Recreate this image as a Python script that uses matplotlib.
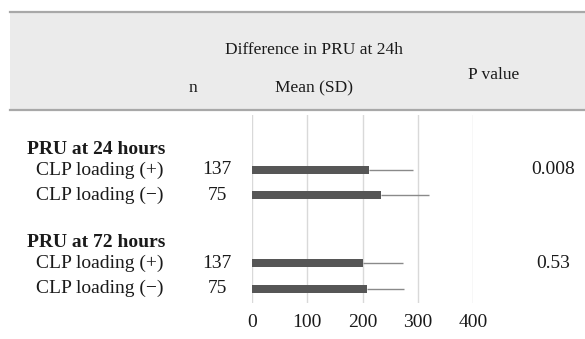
import matplotlib
matplotlib.use("Agg")
import matplotlib.pyplot as plt
from matplotlib.patches import Rectangle
from matplotlib.transforms import blended_transform_factory

# ---- data ----
groups = ["PRU at 24 hours", "PRU at 72 hours"]
row_labels = ["CLP loading (+)", "CLP loading (\u2212)", "CLP loading (+)", "CLP loading (\u2212)"]
n_values = ["137", "75", "137", "75"]
means = [212, 234, 200, 209]
sds = [80, 86, 73, 66]
p_values = ["0.008", "0.53"]
xticks = [0, 100, 200, 300, 400]

# ---- layout (pixels) ----
W, H = 585, 339
fig = plt.figure(figsize=(W / 100, H / 100), dpi=100)
plt.rcParams['font.family'] = ['Liberation Serif', 'DejaVu Serif']
txt = '#1a1a1a'
FSH = 12.5
FS = 14

def fx(px):
    return px / W

def fy(py):
    return 1 - py / H

# header band
band = Rectangle((fx(10), fy(110)), fx(585) - fx(10), fy(12) - fy(110),
                 transform=fig.transFigure, facecolor='#ebebeb', edgecolor='none', zorder=0)
fig.patches.append(band)
for yy in (12, 110):
    fig.add_artist(plt.Line2D([fx(10), 1], [fy(yy), fy(yy)], transform=fig.transFigure,
                              color='#a8a8a8', lw=1.6))

fig.text(fx(314), fy(50), "Difference in PRU at 24h", ha='center', va='center', fontsize=FSH, color=txt)
fig.text(fx(314), fy(88), "Mean (SD)", ha='center', va='center', fontsize=FSH, color=txt)
fig.text(fx(193), fy(88), "n", ha='center', va='center', fontsize=FSH, color=txt)
fig.text(fx(494), fy(75), "P value", ha='center', va='center', fontsize=FSH, color=txt)

# bar axes
x0, x1 = 251.7, 473.3
ytop, ybot = 115, 303
ax = fig.add_axes([fx(x0), fy(ybot), fx(x1) - fx(x0), fy(ytop) - fy(ybot)])
bar_pos = [1, 2, 4.69, 5.69]
head_pos = [0.18, 3.88]
ax.set_xlim(0, 400)
ax.set_ylim(6.26, -1.17)
ax.barh(bar_pos, means, height=0.32, color='#565656', zorder=3,
        xerr=[[0] * len(sds), sds], error_kw=dict(ecolor='#8a8a8a', elinewidth=1.0, capsize=0))
ax.set_xticks(xticks)
ax.set_xticklabels([str(t) for t in xticks], fontsize=FS, color=txt)
ax.tick_params(axis='x', length=0, pad=8)
ax.set_yticks([])
ax.grid(axis='x', color='#d9d9d9', lw=1.0, zorder=0)
for s in ax.spines.values():
    s.set_visible(False)
ax.patch.set_alpha(0)

tr = blended_transform_factory(fig.transFigure, ax.transData)
for g, yp in zip(groups, head_pos):
    fig.text(fx(27), yp, g, transform=tr, ha='left', va='center', fontsize=FS,
             fontweight='bold', color=txt)
for lab, n, yp in zip(row_labels, n_values, bar_pos):
    fig.text(fx(164), yp, lab, transform=tr, ha='right', va='center', fontsize=FS, color=txt)
    fig.text(fx(217), yp, n, transform=tr, ha='center', va='center', fontsize=FS, color=txt)
for p, yp in zip(p_values, [bar_pos[0], bar_pos[2]]):
    fig.text(fx(553), yp, p, transform=tr, ha='center', va='center', fontsize=FS, color=txt)

fig.savefig("out.png", dpi=100)
